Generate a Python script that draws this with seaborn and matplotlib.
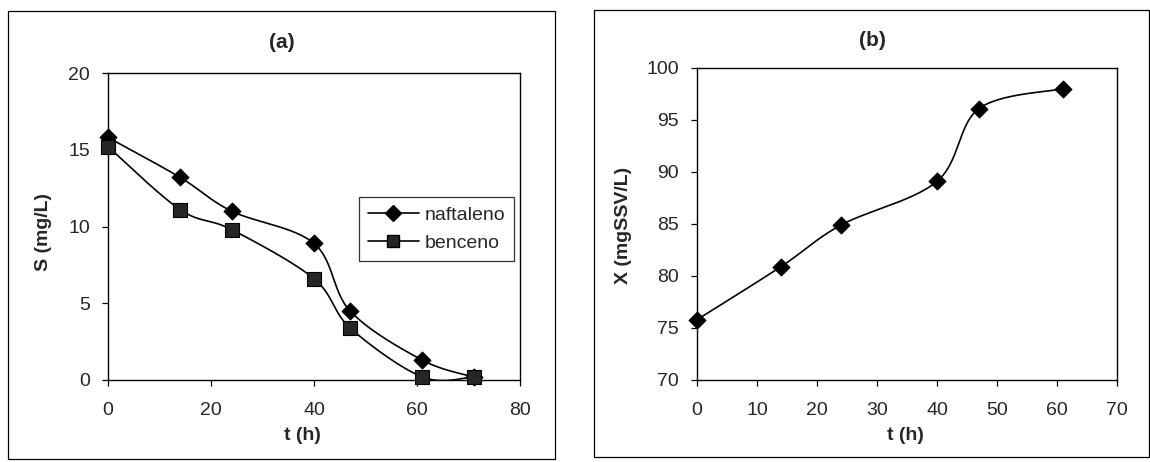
import numpy as np
import pandas as pd
import seaborn as sns
import matplotlib.pyplot as plt
from matplotlib.patches import Rectangle

# data
t_a = [0, 14, 24, 40, 47, 61, 71]
naftaleno = [15.8, 13.2, 11.0, 8.9, 4.5, 1.3, 0.2]
benceno = [15.2, 11.1, 9.8, 6.6, 3.4, 0.2, 0.2]

t_b = [0, 14, 24, 40, 47, 61]
biomasa = [75.8, 80.9, 84.9, 89.1, 96.1, 98.0]

W, H = 1150, 462


def smooth(x, y, n=30):
    # Excel-like smoothed line (uniform Catmull-Rom through the points)
    p = np.column_stack([x, y]).astype(float)
    p = np.vstack([p[0], p, p[-1]])
    out = []
    for i in range(1, len(p) - 2):
        p0, p1, p2, p3 = p[i - 1], p[i], p[i + 1], p[i + 2]
        s = np.linspace(0, 1, n)[:, None]
        c = 0.5 * ((2 * p1) + (-p0 + p2) * s + (2 * p0 - 5 * p1 + 4 * p2 - p3) * s ** 2
                   + (-p0 + 3 * p1 - 3 * p2 + p3) * s ** 3)
        out.append(c)
    c = np.vstack(out)
    return c[:, 0], c[:, 1]


def box(x0, y0, x1, y1):
    # pixel box (top-left origin) -> figure fraction rect
    return [x0 / W, 1 - y1 / H, (x1 - x0) / W, (y1 - y0) / H]


sns.set_theme(style='white')
plt.rcParams['font.family'] = ['Liberation Sans', 'DejaVu Sans']

fig = plt.figure(figsize=(W / 100, H / 100), dpi=100)

# panel frames
r = box(8, 11, 555, 459)
fig.add_artist(Rectangle((r[0], r[1]), r[2], r[3], transform=fig.transFigure,
                         fill=False, lw=0.9, ec='black'))
r = box(594, 10, 1149, 457)
fig.add_artist(Rectangle((r[0], r[1]), r[2], r[3], transform=fig.transFigure,
                         fill=False, lw=0.9, ec='black'))

ax1 = fig.add_axes(box(108, 73, 520, 380))
ax2 = fig.add_axes(box(697, 68, 1117, 380))

# (a)
sx, sy = smooth(t_a, naftaleno)
ax1.plot(sx, sy, color='black', lw=1.2)
sx, sy = smooth(t_a, benceno)
ax1.plot(sx, sy, color='black', lw=1.2)
sns.scatterplot(x=t_a, y=naftaleno, marker='D', s=75, color='black', ax=ax1, zorder=3,
                clip_on=False, edgecolor='black')
sns.scatterplot(x=t_a, y=benceno, marker='s', s=100, color='#262626', ax=ax1, zorder=3,
                clip_on=False, edgecolor='black')
h1, = ax1.plot([], [], color='black', lw=1.2, marker='D', ms=8, label='naftaleno')
h2, = ax1.plot([], [], color='black', lw=1.2, marker='s', ms=9, mfc='#262626', label='benceno')
leg = ax1.legend(handles=[h1, h2], loc='upper right', bbox_to_anchor=(0.985, 0.595), fontsize=14,
                 frameon=True, fancybox=False, edgecolor='black', handlelength=2.6, borderpad=0.45,
                 labelspacing=0.55, handletextpad=0.3, borderaxespad=0)
leg.get_frame().set_linewidth(0.9)
ax1.set_xlim(0, 80)
ax1.set_ylim(0, 20)
ax1.set_xticks(range(0, 81, 20))
ax1.set_yticks(range(0, 21, 5))

# (b)
sx, sy = smooth(t_b, biomasa)
ax2.plot(sx, sy, color='black', lw=1.2)
sns.scatterplot(x=t_b, y=biomasa, marker='D', s=75, color='black', ax=ax2, zorder=3,
                clip_on=False, edgecolor='black')
ax2.set_xlim(0, 70)
ax2.set_ylim(70, 100)
ax2.set_xticks(range(0, 71, 10))
ax2.set_yticks(range(70, 101, 5))

for ax in (ax1, ax2):
    for sp in ax.spines.values():
        sp.set_color('black')
        sp.set_linewidth(1.0)
    ax.tick_params(axis='both', labelsize=14, direction='out', length=4, width=0.9,
                   color='black', bottom=True, left=True)
    ax.tick_params(axis='x', pad=12)
    ax.tick_params(axis='y', pad=9)
    ax.set_xlabel('')
    ax.set_ylabel('')

fig.text(282 / W, 1 - 42 / H, '(a)', ha='center', va='center', fontsize=15, fontweight='bold')
fig.text(872 / W, 1 - 40 / H, '(b)', ha='center', va='center', fontsize=15, fontweight='bold')
fig.text(302 / W, 1 - 435 / H, 't (h)', ha='center', va='center', fontsize=14, fontweight='bold')
fig.text(905 / W, 1 - 435 / H, 't (h)', ha='center', va='center', fontsize=14, fontweight='bold')
fig.text(43 / W, 1 - 232 / H, 'S (mg/L)', ha='center', va='center', rotation=90, fontsize=14,
         fontweight='bold')
fig.text(623 / W, 1 - 225 / H, 'X (mgSSV/L)', ha='center', va='center', rotation=90, fontsize=14,
         fontweight='bold')

fig.savefig('out.png', dpi=100)
